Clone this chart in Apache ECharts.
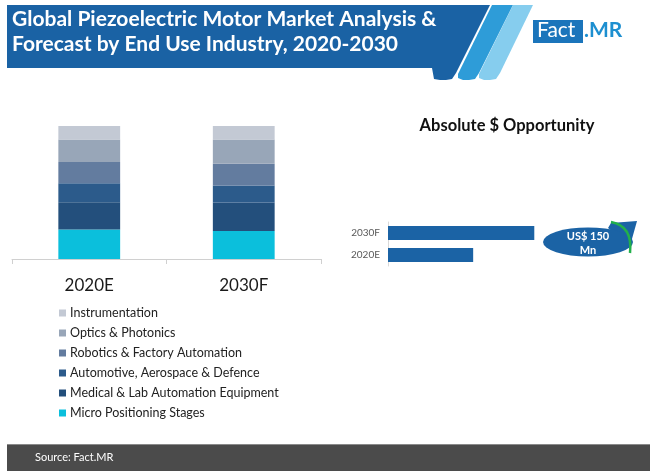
<!DOCTYPE html>
<html>
<head>
<meta charset="utf-8">
<script src="https://cdn.jsdelivr.net/npm/echarts@6/dist/echarts.min.js"></script>
<style>html,body{margin:0;padding:0;background:#fff;}#c{width:650px;height:471px;}</style>
</head>
<body>
<div id="c"></div>
<script>
// ---- data ----
var categories = ['2020E', '2030F'];
var seriesNames = ['Micro Positioning Stages', 'Medical & Lab Automation Equipment', 'Automotive, Aerospace & Defence', 'Robotics & Factory Automation', 'Optics & Photonics', 'Instrumentation'];
var microPositioning = [22.1, 21.0];
var medicalLab = [20.5, 21.5];
var automotiveAero = [14.4, 12.7];
var roboticsFactory = [15.9, 16.5];
var opticsPhotonics = [17.0, 18.2];
var instrumentation = [10.1, 10.1];
var opportunityYears = ['2020E', '2030F'];
var opportunityValues = [209, 359];
var opportunityLabel = ['US$ 150', 'Mn'];

var colors = ['#0bbfdc', '#234f7c', '#2c5b8b', '#637c9f', '#98a6b8', '#c3c9d4'];
var segValues = [microPositioning, medicalLab, automotiveAero, roboticsFactory, opticsPhotonics, instrumentation];

var FONT = 'Lato';
var chart = echarts.init(document.getElementById('c'), null, {renderer: 'canvas'});

var stackSeries = seriesNames.map(function (n, i) {
  return {
    name: n, type: 'bar', stack: 'share', xAxisIndex: 0, yAxisIndex: 0,
    barWidth: '40%', itemStyle: {color: colors[i]}, data: segValues[i], silent: true
  };
});

var option = {
  animation: false,
  textStyle: {fontFamily: FONT},
  title: [
    {text: 'Absolute $ Opportunity', left: 502, top: 112, textAlign: 'center',
     textStyle: {fontFamily: FONT, fontSize: 16.5, fontWeight: 'bold', color: '#111'}}
  ],
  legend: {
    orient: 'vertical', left: 59, top: 306, padding: 0,
    itemWidth: 7, itemHeight: 7, itemGap: 6, icon: 'rect',
    data: seriesNames.slice().reverse(),
    textStyle: {fontFamily: FONT, fontSize: 12.5, color: '#222', lineHeight: 14, padding: [0, 0, 0, -1]}
  },
  grid: [
    {left: 12, top: 126, width: 309, height: 133},
    {left: 388, top: 222, width: 163, height: 44}
  ],
  xAxis: [
    {type: 'category', gridIndex: 0, data: categories,
     axisLine: {lineStyle: {color: '#d0d0d0'}},
     axisTick: {show: true, length: 5, lineStyle: {color: '#d0d0d0'}},
     axisLabel: {fontFamily: FONT, fontSize: 17, color: '#1a1a1a', margin: 18}},
    {type: 'value', gridIndex: 1, min: 0, max: 400, show: false}
  ],
  yAxis: [
    {type: 'value', gridIndex: 0, min: 0, max: 100, show: false},
    {type: 'category', gridIndex: 1, data: opportunityYears,
     axisLine: {lineStyle: {color: '#d9d9d9'}}, axisTick: {show: false},
     axisLabel: {fontFamily: FONT, fontSize: 10, color: '#595959', margin: 8}}
  ],
  series: stackSeries.concat([
    {type: 'bar', xAxisIndex: 1, yAxisIndex: 1, barWidth: 14, data: opportunityValues,
     itemStyle: {color: '#1b63a5'}, silent: true}
  ]),
  graphic: [
    // header banner
    {type: 'polygon', shape: {points: [[7,5],[490,5],[456,73],[452,79],[446,80],[440,80],[434,79],[432,68],[7,68]]}, style: {fill: '#1a62a4'}},
    {type: 'polygon', shape: {points: [[492,5],[513,5],[479,73],[475,79],[469,80],[463,80],[458,78],[458,74]]}, style: {fill: '#2e9cd8'}},
    {type: 'polygon', shape: {points: [[513,5],[533,5],[500,73],[496,79],[490,80],[484,80],[479,78],[479,74]]}, style: {fill: '#86cdee'}},
    {type: 'text', left: 12, top: 7, style: {text: 'Global Piezoelectric Motor Market Analysis &\nForecast by End Use Industry, 2020-2030', fill: '#fff', font: 'bold 21px Lato', lineHeight: 25}},
    // logo
    {type: 'rect', shape: {x: 533, y: 20, width: 50, height: 23}, style: {fill: '#1b75bb'}},
    {type: 'text', left: 537, top: 20, style: {text: 'Fact', fill: '#fff', font: '21px Lato'}},
    {type: 'text', left: 584, top: 20, style: {text: '.MR', fill: '#1d8fd0', font: 'bold 21px Lato'}},
    // callout
    {type: 'polygon', shape: {points: [[608, 228], [611, 223], [637, 221], [630, 246]]}, style: {fill: '#1b63a5'}},
    {type: 'circle', x: 588, y: 242, scaleX: 45 / 14.5, shape: {cx: 0, cy: 0, r: 14.5}, style: {fill: '#1b63a5'}},
    {type: 'bezierCurve', shape: {x1: 611, y1: 222, cpx1: 633, cpy1: 226, x2: 630, y2: 253}, style: {fill: null, stroke: '#22b04b', lineWidth: 2.5}},
    {type: 'text', x: 588, y: 236, style: {text: opportunityLabel[0], fill: '#fff', font: 'bold 11px Lato', align: 'center', verticalAlign: 'middle'}},
    {type: 'text', x: 588, y: 250, style: {text: opportunityLabel[1], fill: '#fff', font: 'bold 11px Lato', align: 'center', verticalAlign: 'middle'}},
    // footer
    {type: 'rect', shape: {x: 7, y: 444, width: 643, height: 27}, style: {fill: '#4b4b4b'}},
    {type: 'rect', shape: {x: 7, y: 444, width: 643, height: 1}, style: {fill: '#8a8a8a'}},
    {type: 'text', left: 35, top: 452, style: {text: 'Source: Fact.MR', fill: '#fff', font: '11px Lato'}}
  ]
};
chart.setOption(option);
</script>
</body>
</html>
